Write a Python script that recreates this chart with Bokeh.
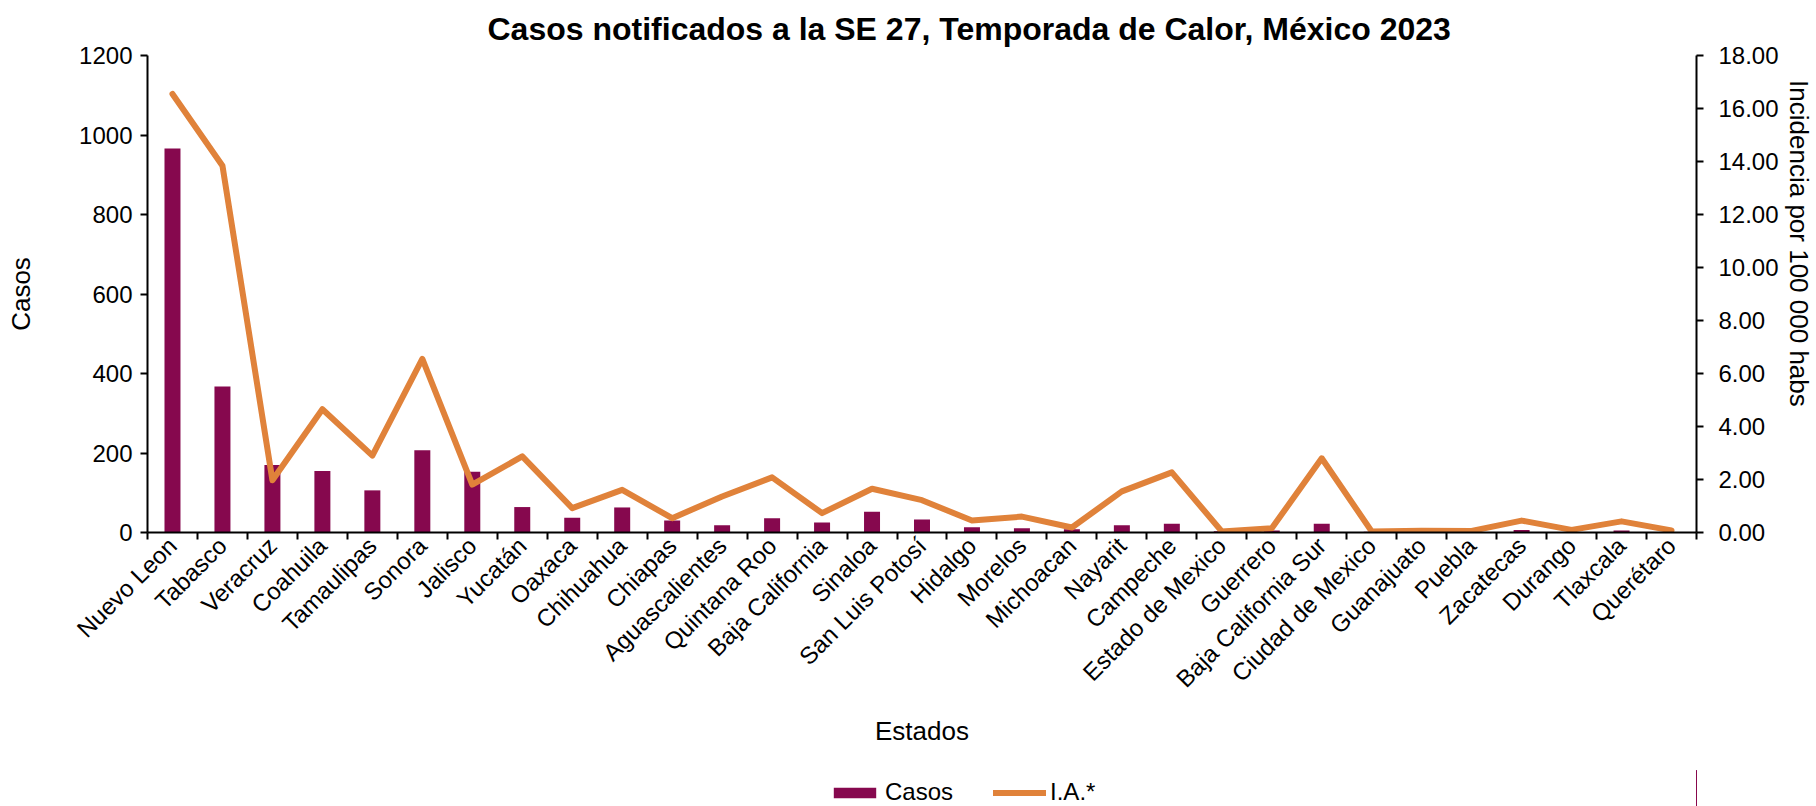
from math import pi
from bokeh.plotting import figure
from bokeh.layouts import column
from bokeh.models import (ColumnDataSource, Range1d, LinearAxis, FixedTicker,
                          NumeralTickFormatter, Legend, LegendItem, Title)
from bokeh.embed import file_html
from bokeh.resources import INLINE

states = ["Nuevo Leon", "Tabasco", "Veracruz", "Coahuila", "Tamaulipas", "Sonora", "Jalisco",
          "Yucatán", "Oaxaca", "Chihuahua", "Chiapas", "Aguascalientes", "Quintana Roo",
          "Baja California", "Sinaloa", "San Luis Potosí", "Hidalgo", "Morelos", "Michoacan",
          "Nayarit", "Campeche", "Estado de Mexico", "Guerrero", "Baja California Sur",
          "Ciudad de Mexico", "Guanajuato", "Puebla", "Zacatecas", "Durango", "Tlaxcala", "Querétaro"]
casos = [966, 367, 170, 155, 106, 207, 153, 64, 37, 63, 30, 18, 36, 25, 52, 33, 13, 11, 8, 18,
         22, 3, 5, 22, 2, 1, 1, 6, 1, 5, 1]
ia = [16.55, 13.84, 1.97, 4.65, 2.90, 6.55, 1.81, 2.87, 0.92, 1.61, 0.54, 1.36, 2.08, 0.73,
      1.65, 1.22, 0.45, 0.60, 0.19, 1.55, 2.27, 0.04, 0.16, 2.80, 0.04, 0.07, 0.06, 0.45,
      0.10, 0.42, 0.08]
left_ticks = [0, 200, 400, 600, 800, 1000, 1200]
right_ticks = [0, 2, 4, 6, 8, 10, 12, 14, 16, 18]

FONT = "Liberation Sans"
BAR = "#86084E"
LINE = "#E0823A"

n = len(states)
centers = [i + 0.5 for i in range(n)]
src = ColumnDataSource(dict(x=centers, state=states, casos=casos, ia=ia))

p = figure(width=1816, height=770, output_backend="svg", toolbar_location=None,
           x_range=Range1d(0, n), y_range=Range1d(0, 1200),
           x_axis_location=None, y_axis_location=None,
           min_border_left=147, min_border_right=116, min_border_top=51, min_border_bottom=238)
p.extra_y_ranges = {"right": Range1d(0, 18)}
p.outline_line_color = None
p.xgrid.grid_line_color = None
p.ygrid.grid_line_color = None
p.background_fill_color = "white"
p.border_fill_color = "white"

p.title = Title(text="Casos notificados a la SE 27, Temporada de Calor, México 2023",
                align="left", offset=340, standoff=17, text_font=FONT, text_font_size="32px",
                text_font_style="bold", text_color="black")

def style_axis(ax):
    ax.axis_line_color = "black"
    ax.axis_line_width = 2
    ax.major_tick_line_color = "black"
    ax.major_tick_line_width = 2
    ax.major_tick_in = 0
    ax.major_tick_out = 7
    ax.minor_tick_line_color = None
    ax.major_label_text_font = FONT
    ax.major_label_text_font_size = "24px"
    ax.major_label_text_color = "black"
    ax.axis_label_text_font = FONT
    ax.axis_label_text_font_size = "26px"
    ax.axis_label_text_font_style = "normal"
    ax.axis_label_text_color = "black"

yl = LinearAxis(ticker=FixedTicker(ticks=left_ticks), axis_label="Casos")
style_axis(yl)
yl.major_label_standoff = 8
yl.axis_label_standoff = 40
p.add_layout(yl, "left")

yr = LinearAxis(y_range_name="right", ticker=FixedTicker(ticks=right_ticks),
                formatter=NumeralTickFormatter(format="0.00"),
                axis_label="Incidencia por 100 000 habs" + "\u00a0" * 14)
style_axis(yr)
yr.major_label_standoff = 15
yr.axis_label_standoff = 2
p.add_layout(yr, "right")

# tick marks at category boundaries
xt = LinearAxis(ticker=FixedTicker(ticks=list(range(n + 1))))
style_axis(xt)
xt.major_label_text_font_size = "0px"
xt.major_label_standoff = 0
p.add_layout(xt, "below")

# category labels at centers
xc = LinearAxis(ticker=FixedTicker(ticks=centers), axis_label="Estados",
                major_label_overrides={c: s for c, s in zip(centers, states)})
style_axis(xc)
xc.axis_line_color = None
xc.major_tick_line_color = None
xc.major_tick_out = 0
xc.major_label_orientation = pi / 4
xc.major_label_standoff = 2
xc.axis_label_standoff = 11
p.add_layout(xc, "below")

p.vbar(x="x", top="casos", width=0.32, source=src, fill_color=BAR, line_color=None)
p.line(x="x", y="ia", source=src, y_range_name="right", line_color=LINE,
       line_width=6, line_join="round", line_cap="round")

# legend strip below the chart (its frame is aligned with the main frame)
lg = figure(width=1816, height=36, output_backend="svg", toolbar_location=None,
            x_range=Range1d(-3, -2), y_range=Range1d(0, 1),
            x_axis_location=None, y_axis_location=None,
            min_border_left=0, min_border_right=0, min_border_top=0, min_border_bottom=0)
lg.title.visible = False
lg.outline_line_color = None
lg.xgrid.grid_line_color = None
lg.ygrid.grid_line_color = None
r_bar = lg.vbar(x="x", top="casos", width=0.32, source=src, fill_color=BAR, line_color=None)
r_line = lg.line(x="x", y="ia", source=src, line_color=LINE, line_width=6,
                 line_join="round", line_cap="round")
legend = Legend(items=[LegendItem(label="Casos", renderers=[r_bar]),
                       LegendItem(label="I.A.*", renderers=[r_line])],
                orientation="horizontal", location=(681, 0), padding=0, margin=0,
                spacing=40, label_standoff=4, glyph_width=53, glyph_height=13,
                label_text_font=FONT, label_text_font_size="24px", label_text_color="black",
                border_line_color=None, background_fill_alpha=0)
lg.add_layout(legend, "center")

open("out.html", "w").write(file_html(column(p, lg, spacing=0), INLINE))
